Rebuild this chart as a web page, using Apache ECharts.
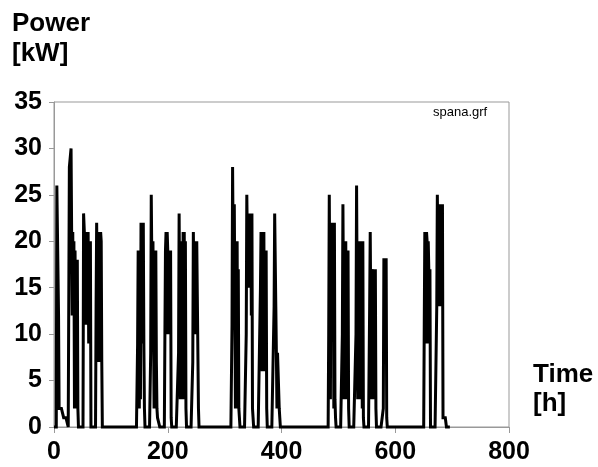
<!DOCTYPE html>
<html>
<head>
<meta charset="utf-8">
<script src="https://cdn.jsdelivr.net/npm/echarts@6/dist/echarts.min.js"></script>
<style>
html,body{margin:0;padding:0;background:#fff;}
#c{width:598px;height:467px;}
</style>
</head>
<body>
<div id="c"></div>
<script>
// Hourly operating blocks: start hour of each block and the hourly power values [kW]
const blockStarts = [5, 27, 52, 74, 147, 170, 195, 219, 244, 313, 338, 363, 387, 483, 507, 531, 555, 579, 651, 673];
const blockLoads = [
  [26,26,26,12,2,2,2,2,2,2,2,2,1,1,1,1,1,1,1,1],
  [28,28,28,30,30,12,21,12,20,2,19,11,18,2,18,2],
  [23,23,20,11,20,12,21,11,21,9,20,11,20],
  [13,22,22,7,21,8,21,7,21,20,7],
  [9,19,19,2,19,3,22,16,22,9,22,9,2],
  [8,25,25,11,20,20,2,19,11,19,7,2,1,1,1,1],
  [10,19,21,10,21,19,10,19,19,10,19,1],
  [8,23,23,3,20,11,20,3,21,11,21,3,20,2],
  [7,21,21,10,20,20,10,20,14,14,2],
  [11,28,28,11,24,24,2,20,13,20,2,17,2,1],
  [10,25,25,15,23,15,23,15,23,12,23,2,1],
  [15,21,21,6,21,12,21,6,19,10,19,2],
  [13,23,23,13,8,2,8,8,8,2,1],
  [10,25,25,3,22,15,22,15,22,2,22,3,1],
  [10,24,24,3,20,15,20,3,19,12,19,2],
  [10,26,26,3,20,12,20,3,20,12,20,2,20,1],
  [13,21,21,3,17,12,17,3,17,10,17,2],
  [2,18,18,18,18,18,1],
  [11,21,21,9,21,20,9,20,17,9,17],
  [13,25,25,13,22,13,24,13,24,13,24,1,1,1,1,1,1]
];
const lastHour = 697;
const xTicks = [0, 200, 400, 600, 800];
const yTicks = [0, 5, 10, 15, 20, 25, 30, 35];

// Build the hourly series
const hourly = new Array(lastHour + 1).fill(0);
blockStarts.forEach((s, i) => {
  blockLoads[i].forEach((v, k) => { hourly[s + k] = v; });
});
const points = hourly.map((v, h) => [h, v]);

const chart = echarts.init(document.getElementById('c'), null, {renderer: 'canvas'});
const FONT = '"Liberation Sans", Arial, Helvetica, sans-serif';
chart.setOption({
  animation: false,
  backgroundColor: '#ffffff',
  grid: {left: 54, right: 89, top: 102, bottom: 40, show: true, borderColor: '#999', borderWidth: 1, containLabel: false},
  xAxis: {
    type: 'value', min: xTicks[0], max: xTicks[xTicks.length - 1], interval: 200,
    axisLine: {show: true, lineStyle: {color: '#999', width: 1}},
    axisTick: {show: true, length: 6, lineStyle: {color: '#999'}},
    splitLine: {show: false},
    axisLabel: {margin: 13, color: '#000', fontSize: 25, fontWeight: 'bold', fontFamily: FONT}
  },
  yAxis: {
    type: 'value', min: yTicks[0], max: yTicks[yTicks.length - 1], interval: 5,
    axisLine: {show: true, lineStyle: {color: '#999', width: 1}},
    axisTick: {show: true, length: 5, lineStyle: {color: '#999'}},
    splitLine: {show: false},
    axisLabel: {margin: 12, color: '#000', fontSize: 25, fontWeight: 'bold', fontFamily: FONT}
  },
  series: [{
    type: 'line',
    data: points,
    showSymbol: false,
    symbol: 'none',
    lineStyle: {color: '#000', width: 3, join: 'miter', miterLimit: 3},
    clip: false
  }],
  graphic: [
    {type: 'text', left: 12, top: 11, style: {text: 'Power', font: 'bold 26px ' + FONT, fill: '#000'}},
    {type: 'text', left: 12, top: 41, style: {text: '[kW]', font: 'bold 26px ' + FONT, fill: '#000'}},
    {type: 'text', left: 533, top: 362, style: {text: 'Time', font: 'bold 26px ' + FONT, fill: '#000'}},
    {type: 'text', left: 533, top: 391, style: {text: '[h]', font: 'bold 26px ' + FONT, fill: '#000'}},
    {type: 'text', left: 433, top: 106, style: {text: 'spana.grf', font: '13px ' + FONT, fill: '#000'}}
  ]
});
</script>
</body>
</html>
